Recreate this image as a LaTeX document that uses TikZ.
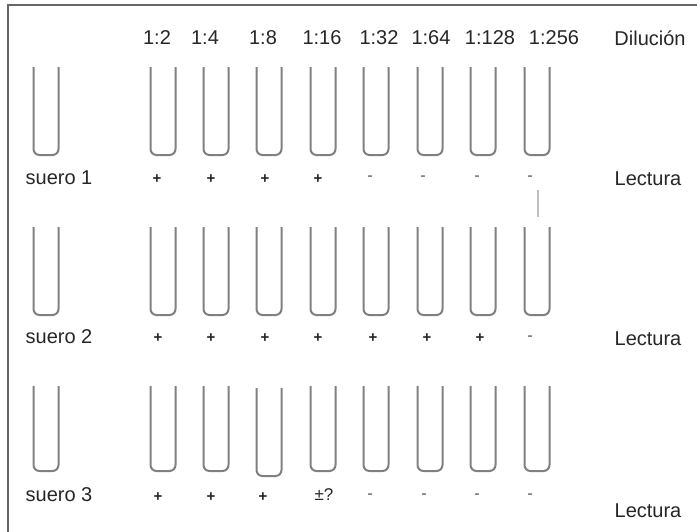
\documentclass[tikz,border=0pt]{standalone}
\usepackage{fontspec}
\setmainfont{Liberation Sans}
\begin{document}
\begin{tikzpicture}[x=1pt,y=-1pt,
  frame/.style={draw=black!60,line width=2.2pt},
  tube/.style={draw=black!50,line width=2pt,rounded corners=6pt},
  lbl/.style={text=black!85,font=\fontsize{20}{22}\selectfont,inner sep=0pt},
  sgn/.style={text=black!85,font=\fontsize{15}{17}\selectfont\bfseries,inner sep=0pt},
  neg/.style={text=black!50,font=\fontsize{15}{17}\selectfont\bfseries,inner sep=0pt}]
\useasboundingbox[fill=white] (0,0) rectangle (697,531);
\draw[frame] (8,535) -- (8,5) -- (700,5);
% dilution header
\node[lbl] (d1) at (157,38) {1:2};
\node[lbl] (d2) at (205,38) {1:4};
\node[lbl] (d3) at (263,38) {1:8};
\node[lbl] (d4) at (322,38) {1:16};
\node[lbl] (d5) at (379,38) {1:32};
\node[lbl] (d6) at (431,38) {1:64};
\node[lbl] (d7) at (490,38) {1:128};
\node[lbl] (d8) at (554,38) {1:256};
\node[lbl] (dil) at (650,38) {Dilución};
% tubes
\foreach \x in {46,163,216,269,323,376,430,483,537}{
  \draw[tube] (\x-12.5,67) -- (\x-12.5,155) -- (\x+12.5,155) -- (\x+12.5,67);
  \draw[tube] (\x-12.5,227) -- (\x-12.5,315) -- (\x+12.5,315) -- (\x+12.5,227);
}
\foreach \x in {46,163,216,323,376,430,483,537}{
  \draw[tube] (\x-12.5,386) -- (\x-12.5,471) -- (\x+12.5,471) -- (\x+12.5,386);
}
\draw[tube] (269-12.5,388) -- (269-12.5,476) -- (269+12.5,476) -- (269+12.5,388);
% row 1
\node[lbl] (s1) at (59,178) {suero 1};
\node[sgn] (r1a) at (157,179) {+};
\node[sgn] (r1b) at (211,179) {+};
\node[sgn] (r1c) at (265,179) {+};
\node[sgn] (r1d) at (318,179) {+};
\node[neg] (r1e) at (370,178) {-};
\node[neg] (r1f) at (423,178) {-};
\node[neg] (r1g) at (477,178) {-};
\node[neg] (r1h) at (530,178) {-};
\node[lbl] (l1) at (648,179) {Lectura};
\coordinate (v1) at (538,190);
\coordinate (v2) at (538,217);
\draw[black!25,line width=2pt] (v1) -- (v2);
% row 2
\node[lbl] (s2) at (59,337) {suero 2};
\foreach \x/\n in {158/a,211/b,265/c,318/d,373/e,427/f,480/g}{
  \node[sgn] (r2\n) at (\x,338) {+};
}
\node[neg] (r2h) at (530,338) {-};
\node[lbl] (l2) at (648,339) {Lectura};
% row 3
\node[lbl] (s3) at (59,495) {suero 3};
\node[sgn] (r3a) at (158,497) {+};
\node[sgn] (r3b) at (211,497) {+};
\node[sgn] (r3c) at (263,497) {+};
\node[lbl,font=\fontsize{17}{19}\selectfont] (r3d) at (324,495) {±?};
\node[neg] (r3e) at (370,496) {-};
\node[neg] (r3f) at (424,496) {-};
\node[neg] (r3g) at (477,496) {-};
\node[neg] (r3h) at (530,496) {-};
\node[lbl] (l3) at (648,511) {Lectura};
\end{tikzpicture}
\end{document}
